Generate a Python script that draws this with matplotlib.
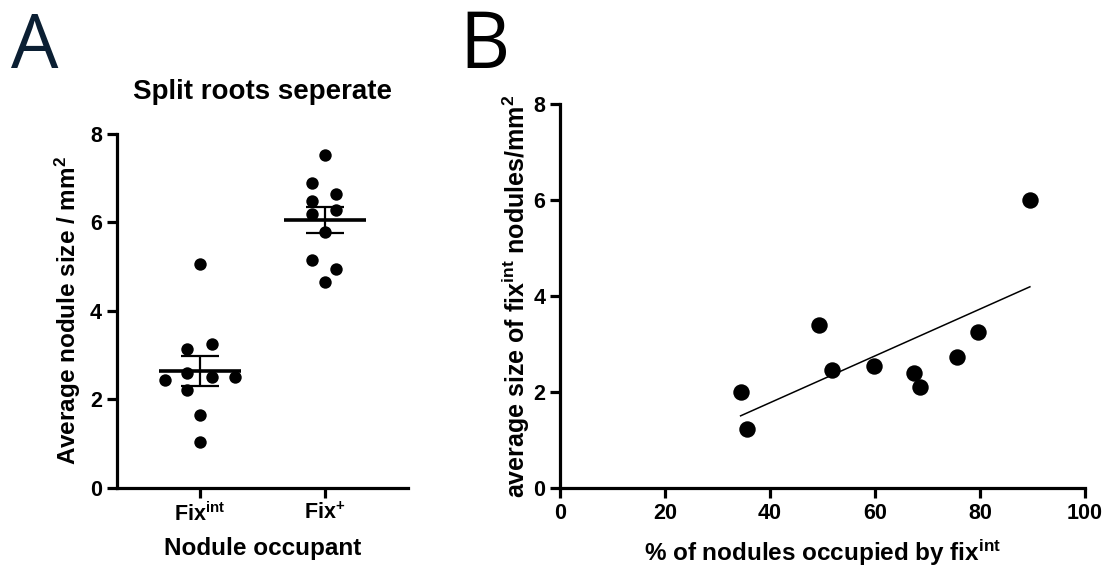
"""
Split-root nodule size: per-group scatter (A) and size vs occupancy (B).
"""
import matplotlib
matplotlib.use("Agg")
import matplotlib.pyplot as plt
import numpy as np

plt.rcParams['font.family'] = ['Liberation Sans', 'DejaVu Sans']
plt.rcParams['font.weight'] = 'bold'
plt.rcParams['mathtext.fontset'] = 'custom'
plt.rcParams['mathtext.rm'] = 'Liberation Sans'
plt.rcParams['mathtext.bf'] = 'Liberation Sans:bold'
plt.rcParams['mathtext.it'] = 'Liberation Sans:italic'

# Panel A data (average nodule size / mm^2)
groups = [r'$\mathbf{Fix}^{\mathrm{int}}$', r'$\mathbf{Fix}^{+}$']
fix_int = [5.06, 3.25, 3.13, 2.59, 2.51, 2.51, 2.44, 2.20, 1.65, 1.03]
fix_plus = [7.52, 6.90, 6.64, 6.48, 6.29, 6.19, 5.79, 5.15, 4.94, 4.65]
# horizontal spread of the dots around each category (swarm layout)
jitter_int = [0, 0.1, -0.1, -0.1, 0.1, 0.28, -0.28, -0.1, 0, 0]
jitter_plus = [0, -0.1, 0.09, -0.1, 0.09, -0.1, 0, -0.1, 0.09, 0]

# Panel B data
pct_int = [34.4, 35.7, 49.4, 51.8, 59.8, 67.5, 68.5, 75.6, 79.6, 89.5]
size_int = [2.00, 1.23, 3.40, 2.47, 2.54, 2.39, 2.11, 2.73, 3.26, 6.00]

LW = 2.3
TICK_FS = 15.5
LABEL_FS = 17.5

fig = plt.figure(figsize=(11.1, 5.79), dpi=100)


def style_axes(ax):
    for side in ['top', 'right']:
        ax.spines[side].set_visible(False)
    for side in ['left', 'bottom']:
        ax.spines[side].set_linewidth(LW)
    ax.tick_params(width=LW, length=7.5, labelsize=TICK_FS, pad=3)
    for lab in ax.get_xticklabels() + ax.get_yticklabels():
        lab.set_fontweight('bold')


# ---- Panel A ----
axA = fig.add_axes([0.105, 0.158, 0.2627, 0.6106])
for i, (vals, jit) in enumerate([(fix_int, jitter_int), (fix_plus, jitter_plus)]):
    vals = np.array(vals)
    axA.scatter(i + np.array(jit), vals, s=80, color='black', zorder=3, linewidths=0)
    mean = vals.mean()
    sem = vals.std(ddof=1) / np.sqrt(len(vals))
    axA.hlines(mean, i - 0.33, i + 0.33, color='black', lw=2.6, zorder=4)
    axA.errorbar(i, mean, yerr=sem, fmt='none', ecolor='black', elinewidth=1.6,
                 capsize=14, capthick=1.6, zorder=4)
axA.set_xlim(-0.667, 1.667)
axA.set_ylim(0, 8)
axA.set_yticks([0, 2, 4, 6, 8])
axA.set_xticks([0, 1])
axA.set_xticklabels(groups)
style_axes(axA)
axA.set_xlabel('Nodule occupant', fontsize=LABEL_FS, fontweight='bold', labelpad=8)
axA.set_ylabel(r'Average nodule size / mm$^{\mathbf{2}}$', fontsize=LABEL_FS,
               fontweight='bold', labelpad=5)
axA.set_title('Split roots seperate', fontsize=20, fontweight='bold', pad=25)

# ---- Panel B ----
axB = fig.add_axes([0.5045, 0.157, 0.473, 0.663])
axB.scatter(pct_int, size_int, s=140, color='black', zorder=3, linewidths=0)
slope, intercept = np.polyfit(pct_int, size_int, 1)
xfit = np.array([min(pct_int), max(pct_int)])
axB.plot(xfit, slope * xfit + intercept, color='black', lw=1.1, zorder=2)
axB.set_xlim(0, 100)
axB.set_ylim(0, 8)
axB.set_xticks([0, 20, 40, 60, 80, 100])
axB.set_yticks([0, 2, 4, 6, 8])
style_axes(axB)
axB.set_xlabel(r'% of nodules occupied by fix$^{\mathbf{int}}$', fontsize=LABEL_FS,
               fontweight='bold', labelpad=10)
axB.set_ylabel(r'average size of fix$^{\mathbf{int}}$ nodules/mm$^{\mathbf{2}}$',
               fontsize=18, fontweight='bold', labelpad=1)

# panel letters
fig.text(0.010, 0.882, 'A', fontsize=54, family='Open Sans', fontweight='normal',
         color='#0b1f33', ha='left', va='baseline')
fig.text(0.414, 0.882, 'B', fontsize=56, family='Open Sans', fontweight='normal',
         color='black', ha='left', va='baseline')

fig.savefig('out.png', dpi=100)
